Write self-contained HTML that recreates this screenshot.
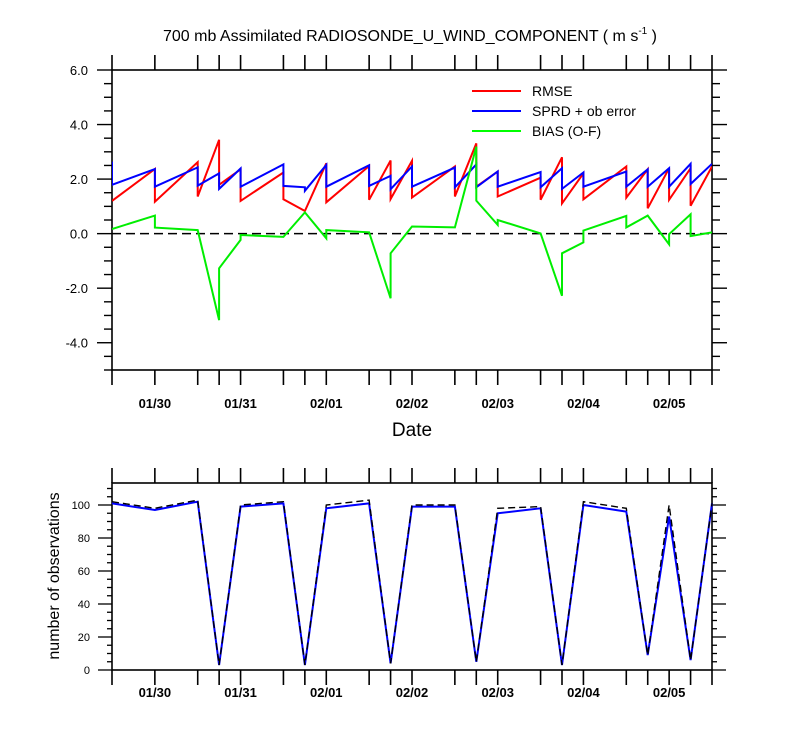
<!DOCTYPE html>
<html><head><meta charset="utf-8"><style>
html,body{margin:0;padding:0;background:#fff;}
svg{display:block;font-family:"Liberation Sans",Arial,sans-serif;}
</style></head><body>
<svg id="chart" width="800" height="750" viewBox="0 0 800 750" xmlns="http://www.w3.org/2000/svg">
<text x="410" y="41" font-size="16" text-anchor="middle">700 mb Assimilated RADIOSONDE_U_WIND_COMPONENT ( m s<tspan font-size="10" dy="-7">-1</tspan><tspan dy="7"> )</tspan></text>
<text x="412" y="436" font-size="19" text-anchor="middle">Date</text>
<text transform="translate(59,576) rotate(-90)" font-size="16" text-anchor="middle">number of observations</text>
<g id="legend">
<line x1="472" y1="91" x2="521" y2="91" stroke="#ff0000" stroke-width="2"/>
<text x="532" y="96" font-size="14">RMSE</text>
<line x1="472" y1="111" x2="521" y2="111" stroke="#0000ff" stroke-width="2"/>
<text x="532" y="116" font-size="14">SPRD + ob error</text>
<line x1="472" y1="131" x2="521" y2="131" stroke="#00ff00" stroke-width="2"/>
<text x="532" y="136" font-size="14">BIAS (O-F)</text>
</g>
</svg>
<script>
// times in hours since 01/29 12Z
const times = [0,12,24,30,36,48,54,60,72,78,84,96,102,108,120,126,132,144,150,156,162,168];
const dayLabels = ["01/30","01/31","02/01","02/02","02/03","02/04","02/05"];
const dayHours = [12,36,60,84,108,132,156];
const rmsePre  = [1.2,2.37,2.62,3.44,2.36,2.24,0.83,2.58,2.48,2.68,2.67,2.46,3.31,2.28,2.05,2.80,2.21,2.46,2.36,2.40,2.40,2.46];
const rmsePost = [1.2,1.17,1.36,1.79,1.2,1.26,0.83,1.15,1.24,1.27,1.32,1.36,1.72,1.36,1.24,1.11,1.26,1.32,0.93,1.24,1.02,2.46];
const sprdPre  = [2.64,2.37,2.43,2.21,2.39,2.54,1.70,2.52,2.51,2.12,2.46,2.42,2.54,2.28,2.26,2.40,2.24,2.28,2.36,2.40,2.56,2.56];
const sprdPost = [1.79,1.72,1.76,1.64,1.72,1.75,1.57,1.72,1.75,1.63,1.72,1.70,1.70,1.72,1.70,1.64,1.72,1.72,1.72,1.72,1.82,2.56];
const biasPre  = [0.17,0.66,0.13,-3.17,-0.23,-0.12,0.78,-0.17,0.05,-2.37,0.26,0.23,3.19,0.32,0.01,-2.28,-0.32,0.65,0.66,-0.39,0.71,0.05];
const biasPost = [0.17,0.22,0.13,-1.27,-0.05,-0.12,0.78,0.13,0.05,-0.72,0.26,0.23,1.21,0.5,0.01,-0.72,0.11,0.23,0.66,-0.02,-0.09,0.05];
const obsAssim = [101,97,102,3,99,101,3,98,101,4,99,99,5,95,98,3,100,96,9,93,6,101];
const obsTotal = [102,98,103,3,100,102,3,100,103,4,100,100,5,98,99,3,102,98,9,100,6,101];
const topTicks = [-4,-2,0,2,4,6];
const obsTicks = [0,20,40,60,80,100];

const NS="http://www.w3.org/2000/svg";
const svg=document.getElementById('chart');
function el(tag,attrs,parent){const e=document.createElementNS(NS,tag);for(const k in attrs)e.setAttribute(k,attrs[k]);(parent||svg).appendChild(e);return e;}
const X0=112,X1=712;
const xs=h=>X0+(X1-X0)*h/168;
const T0=70,T1=370,ys=v=>T1-(v+5)/11*(T1-T0);
const B0=483,B1=670,yb=v=>B1-v*1.65;

const topG=el('g',{});


el('rect',{x:X0,y:T0,width:X1-X0,height:T1-T0,fill:'none',stroke:'#000','stroke-width':1.6},topG);
const botG=el('g',{});


el('rect',{x:X0,y:B0,width:X1-X0,height:B1-B0,fill:'none',stroke:'#000','stroke-width':1.6},botG);

times.forEach(t=>{
  const x=xs(t);
  el('line',{x1:x,y1:T1,x2:x,y2:T1+15,stroke:'#000','stroke-width':1.6},topG);
  el('line',{x1:x,y1:T0,x2:x,y2:T0-15,stroke:'#000','stroke-width':1.6},topG);
  el('line',{x1:x,y1:B1,x2:x,y2:B1+15,stroke:'#000','stroke-width':1.6},botG);
  el('line',{x1:x,y1:B0,x2:x,y2:B0-15,stroke:'#000','stroke-width':1.6},botG);
});
dayLabels.forEach((d,i)=>{
  const t=el('text',{x:xs(dayHours[i]),y:408,'font-size':13,'font-weight':'bold','text-anchor':'middle'},topG);t.textContent=d;
  
  
  const t2=el('text',{x:xs(dayHours[i]),y:697,'font-size':13,'font-weight':'bold','text-anchor':'middle'},botG);t2.textContent=d;
  
  
});
for(let v=-5;v<=6.001;v+=0.5){
  const major=Math.abs(v-Math.round(v/2)*2)<1e-6;
  const L=major?15:8;
  el('line',{x1:X0,y1:ys(v),x2:X0-L,y2:ys(v),stroke:'#000','stroke-width':1.4},topG);
  el('line',{x1:X1,y1:ys(v),x2:X1+L,y2:ys(v),stroke:'#000','stroke-width':1.4},topG);
}
topTicks.forEach(v=>{
  const t=el('text',{x:88,y:ys(v)+5,'font-size':13,'text-anchor':'end'},topG);t.textContent=v.toFixed(1);
  
  
});
for(let v=0;v<=113;v+=5){
  const L=(v%20===0)?14:5;
  el('line',{x1:X0,y1:yb(v),x2:X0-L,y2:yb(v),stroke:'#000','stroke-width':1.3},botG);
  el('line',{x1:X1,y1:yb(v),x2:X1+L,y2:yb(v),stroke:'#000','stroke-width':1.3},botG);
}
obsTicks.forEach(v=>{
  const t=el('text',{x:90,y:yb(v)+4,'font-size':11,'text-anchor':'end'},botG);t.textContent=v;
  
  
});
el('line',{x1:X0,y1:ys(0),x2:X1,y2:ys(0),stroke:'#000','stroke-width':1.6,'stroke-dasharray':'9,5'},topG);

function saw(pre,post){
  let d='';
  times.forEach((t,i)=>{const x=xs(t);d+=(i?'L':'M')+x.toFixed(1)+' '+ys(pre[i]).toFixed(1)+'L'+x.toFixed(1)+' '+ys(post[i]).toFixed(1);});
  return d;
}
const clip=el('clipPath',{id:'clipTop'});el('rect',{x:X0,y:T0,width:X1-X0,height:T1-T0},clip);
const rm=el('path',{d:saw(rmsePre,rmsePost),fill:'none',stroke:'#ff0000','stroke-width':2,'clip-path':'url(#clipTop)'},topG);


const sp=el('path',{d:saw(sprdPre,sprdPost),fill:'none',stroke:'#0000ff','stroke-width':2,'clip-path':'url(#clipTop)'},topG);


const bi=el('path',{d:saw(biasPre,biasPost),fill:'none',stroke:'#00ee00','stroke-width':2,'clip-path':'url(#clipTop)'},topG);



function pl(arr){return times.map((t,i)=>(i?'L':'M')+xs(t).toFixed(1)+' '+yb(arr[i]).toFixed(1)).join('');}
const oa=el('path',{d:pl(obsAssim),fill:'none',stroke:'#0000ff','stroke-width':2},botG);


const ot=el('path',{d:pl(obsTotal),fill:'none',stroke:'#000','stroke-width':1.4,'stroke-dasharray':'7,4'},botG);


</script>
</body></html>
